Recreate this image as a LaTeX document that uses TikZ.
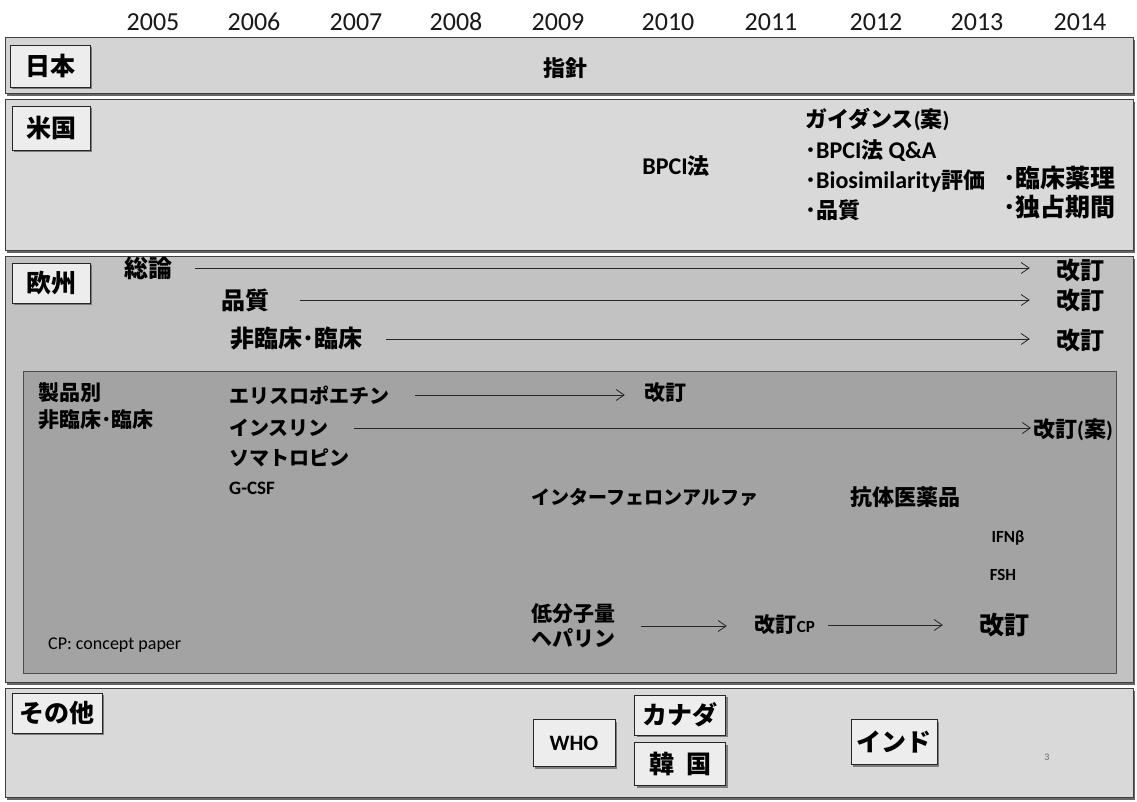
\documentclass[tikz,border=0pt]{standalone}
\usepackage{fontspec}
\setmainfont{Carlito}
\newfontfamily\cjk{Noto Sans CJK JP}
\usetikzlibrary{arrows.meta,shadows}
\newcommand\fsz[2]{\fontsize{#1}{#2}\selectfont}
\newcommand\lat[1]{{\rmfamily #1}}
\newcommand\latb[1]{{\rmfamily\fsz{24}{26}#1}}
\tikzset{
  band/.style={draw=black!75, line width=0.9pt},
  bshadow/.style={fill=black!60},
  yr/.style={font=\fsz{26}{30}, text=black!90, inner sep=0pt},
  lbl/.style={draw=black!85, line width=1pt, fill=black!7, font=\cjk\bfseries\fsz{25}{28}, inner sep=0pt,
    drop shadow={shadow xshift=2pt, shadow yshift=-2pt, fill=black!60, opacity=0.8}},
  tx/.style={inner sep=0pt, font=\cjk\bfseries\fsz{22}{26}},
  big/.style={inner sep=0pt, font=\cjk\bfseries\fsz{24}{28}},
  prod/.style={inner sep=0pt, font=\cjk\bfseries\fsz{20}{24}, anchor=west},
  arr/.style={-{Straight Barb[length=8pt,width=11pt]}, line width=0.8pt, draw=black!85},
}
\begin{document}
\begin{tikzpicture}[x=1pt,y=-1pt]
\useasboundingbox (0,0) rectangle (1137,801);
\fill[white] (0,0) rectangle (1137,801);

% years
\foreach \x/\y in {153/2005,254/2006,356/2007,456/2008,558/2009,668/2010,771/2011,876/2012,977/2013,1080/2014}
  \node[yr] (y\y) at (\x,22) {\y};

% bands
\fill[bshadow] (7,40) rectangle (1135,96);
\draw[band, fill=black!17] (5,37) rectangle (1133,93);
\fill[bshadow] (7,102) rectangle (1135,253);
\draw[band, fill=black!15] (5,99) rectangle (1133,250);
\fill[bshadow] (7,259) rectangle (1135,685);
\draw[band, fill=black!24] (5,256) rectangle (1133,682);
\draw[draw=black!70, line width=1pt, fill=black!36] (23,371) rectangle (1116,673);
\fill[bshadow] (7,691) rectangle (1135,800);
\draw[band, fill=black!15] (5,688) rectangle (1133,797);

% Japan
\node[lbl, minimum width=80pt, minimum height=42pt] (jp) at (50,66) {日本};
\node[tx] (shishin) at (565,68) {指針};

% USA
\node[lbl, minimum width=78pt, minimum height=44pt] (us) at (51,128) {米国};
\node[tx] (bpci) at (676,166) {\latb{BPCI}法};
\node[tx, anchor=west] (guid) at (805,120) {ガイダンス\lat{(}案\lat{)}};
\node[tx, anchor=west] (g1) at (805,151) {･\latb{BPCI}法 \latb{Q\&A}};
\node[tx, anchor=west] (g2) at (805,181) {･\latb{Biosimilarity}評価};
\node[tx, anchor=west] (g3) at (805,210) {･品質};
\node[tx, anchor=west, font=\cjk\bfseries\fsz{25}{28}] (g4) at (1003,178) {･臨床薬理};
\node[tx, anchor=west, font=\cjk\bfseries\fsz{25}{28}] (g5) at (1003,207) {･独占期間};

% Europe
\node[lbl, minimum width=78pt, minimum height=40pt] (eu) at (51,283) {欧州};
\node[big] (souron) at (148,268) {総論};
\node[big] (k1) at (1080,270) {改訂};
\node[big] (hinshitsu) at (245,300) {品質};
\node[big] (k2) at (1080,300) {改訂};
\node[big] (hirin) at (296,339) {非臨床･臨床};
\node[big] (k3) at (1080,340) {改訂};
\draw[arr, shorten <=23pt, shorten >=26pt] (souron.east) -- (souron.east -| k1.west);
\draw[arr, shorten <=31pt, shorten >=26pt] (hinshitsu.east) -- (hinshitsu.east -| k2.west);
\draw[arr, shorten <=24pt, shorten >=26pt] (hirin.east) -- (hirin.east -| k3.west);

% products
\node[prod, font=\cjk\bfseries\fsz{21}{25}] (seihin) at (38,393) {製品別};
\node[prod, font=\cjk\bfseries\fsz{21}{25}] (seihin2) at (38,420) {非臨床･臨床};
\node[prod] (epo) at (229,395) {エリスロポエチン};
\node[tx, font=\cjk\bfseries\fsz{21}{25}] (k4) at (665,393) {改訂};
\node[prod] (ins) at (229,428) {インスリン};
\node[prod, font=\cjk\bfseries\fsz{22}{25}] (k5) at (1033,430) {改訂\lat{(}案\lat{)}};
\node[prod] (soma) at (229,458) {ソマトロピン};
\node[prod, font=\bfseries\fsz{19}{24}] (gcsf) at (229,488) {G-CSF};
\node[tx, font=\cjk\bfseries\fsz{19}{23}] (ifna) at (645,497) {インターフェロンアルファ};
\node[tx] (kotai) at (905,497) {抗体医薬品};
\node[tx, font=\bfseries\fsz{17}{20}] (ifnb) at (1008,538) {IFNβ};
\node[tx, font=\bfseries\fsz{17}{20}] (fsh) at (1003,575) {FSH};
\node[tx, font=\cjk\bfseries\fsz{21}{25}, align=center] (hep) at (573,626) {低分子量\\ヘパリン};
\node[tx, font=\cjk\bfseries\fsz{21}{25}] (kcp) at (785,625) {改訂\lat{\fsz{17}{20}CP}};
\node[tx, font=\cjk\bfseries\fsz{25}{28}] (k6) at (1004,625) {改訂};
\node[prod, font=\fsz{18}{20}] (cp) at (48,645) {CP: concept paper};
\draw[arr, shorten <=26pt, shorten >=19pt] (epo.east) -- (epo.east -| k4.west);
\draw[arr, shorten <=25pt, shorten >=2pt] (ins.east) -- (ins.east -| k5.west);
\draw[arr, shorten <=26pt, shorten >=28pt] (hep.east) -- (hep.east -| kcp.west);
\draw[arr, shorten <=13pt, shorten >=36pt] (kcp.east) -- (kcp.east -| k6.west);

% others
\node[lbl, minimum width=90pt, minimum height=40pt] (oth) at (57,713) {その他};
\node[lbl, minimum width=82pt, minimum height=47pt, font=\bfseries\fsz{22}{26}] (who) at (574,743) {WHO};
\node[lbl, minimum width=91pt, minimum height=40pt] (ca) at (680,715) {カナダ};
\node[lbl, minimum width=91pt, minimum height=43pt] (kr) at (680,764) {韓\hspace{12pt}国};
\node[lbl, minimum width=86pt, minimum height=45pt] (in) at (894,742) {インド};
\node[inner sep=0pt, font=\fsz{10}{12}, text=black!60] (pg) at (1047,757) {3};
\end{tikzpicture}
\end{document}
